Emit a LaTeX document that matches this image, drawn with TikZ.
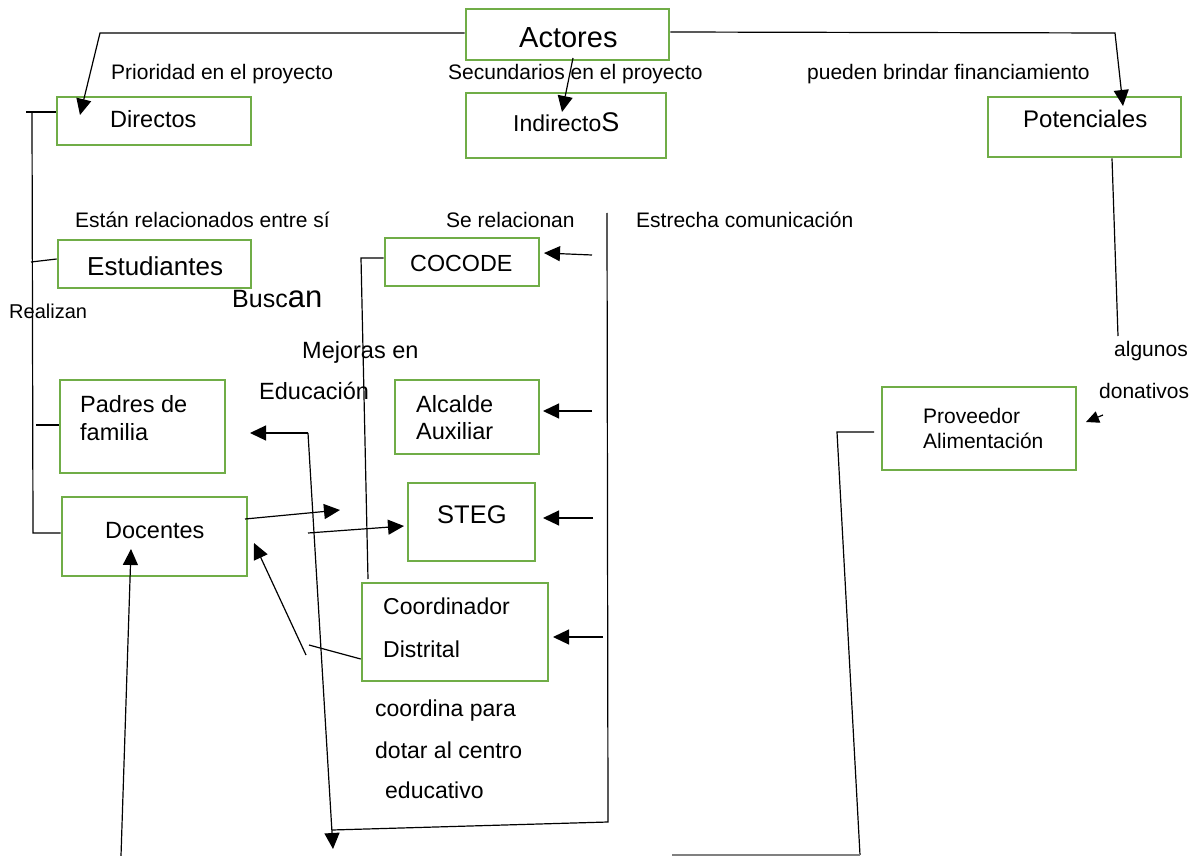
\documentclass[tikz,border=0pt]{standalone}
\usepackage{fontspec}
\setmainfont{Liberation Sans}
\usetikzlibrary{arrows.meta}
\definecolor{boxgreen}{RGB}{112,173,71}
\newcommand{\fsz}[1]{\fontsize{#1pt}{#1pt}\selectfont}
\begin{document}
\begin{tikzpicture}[x=1pt,y=-1pt,
  box/.style={draw=boxgreen,line width=2.6pt,inner sep=0pt,rectangle},
  txt/.style={anchor=base west,inner sep=0pt,font=\fsz{21}},
  conn/.style={line width=1.2pt},
  arr/.style={conn,-{Triangle[length=16pt,width=15pt]}},
  sarr/.style={conn,-{Triangle[length=13pt,width=12pt]}},
]
\useasboundingbox (0,0) rectangle (1195,856);

% ---------- boxes ----------
\node[box,minimum width=203pt,minimum height=51pt] (actores) at (567.5,34.5) {};
\node[box,minimum width=194pt,minimum height=48pt] (directos) at (154,121) {};
\node[box,minimum width=200pt,minimum height=65pt] (indirectos) at (566,125.5) {};
\node[box,minimum width=193pt,minimum height=60pt] (potenciales) at (1084.5,127) {};
\node[box,minimum width=193pt,minimum height=48pt] (estudiantes) at (154.5,264) {};
\node[box,minimum width=154pt,minimum height=48pt] (cocode) at (462,262) {};
\node[box,minimum width=165pt,minimum height=93pt] (padres) at (142.5,426.5) {};
\node[box,minimum width=185pt,minimum height=79pt] (docentes) at (154.5,536.5) {};
\node[box,minimum width=144pt,minimum height=74pt] (alcalde) at (467,417) {};
\node[box,minimum width=127pt,minimum height=78pt] (steg) at (471.5,522) {};
\node[box,minimum width=186pt,minimum height=98pt] (coord) at (455,632) {};
\node[box,minimum width=194pt,minimum height=83pt] (proveedor) at (979,428.5) {};

% ---------- texts inside boxes ----------
\node[txt,font=\fsz{29}] (tactores) at (519,48) {Actores};
\node[txt,font=\fsz{23.5}] (tdirectos) at (110,128) {Directos};
\node[txt] (tindirectos) at (513,132) {{\fsz{23}Indirecto}{\fsz{27}S}};
\node[txt,font=\fsz{24}] (tpotenciales) at (1023,128) {Potenciales};
\node[txt,font=\fsz{26}] (testudiantes) at (87,275) {Estudiantes};
\node[txt,font=\fsz{23.3}] (tcocode) at (410,271) {COCODE};
\node[txt,font=\fsz{23.5}] (tpadres1) at (80,412) {Padres de};
\node[txt,font=\fsz{23.5}] (tpadres2) at (80,440) {familia};
\node[txt,font=\fsz{23.5}] (tdocentes) at (105,538) {Docentes};
\node[txt,font=\fsz{23.5}] (talcalde1) at (416,412) {Alcalde};
\node[txt,font=\fsz{23.5}] (talcalde2) at (416,439) {Auxiliar};
\node[txt,font=\fsz{25.5}] (tsteg) at (437,523) {STEG};
\node[txt,font=\fsz{23}] (tcoord1) at (383,614) {Coordinador};
\node[txt,font=\fsz{23}] (tcoord2) at (383,657) {Distrital};
\node[txt] (tprov1) at (923,423) {Proveedor};
\node[txt] (tprov2) at (923,448) {Alimentación};

% ---------- free labels ----------
\node[txt] (lprioridad) at (111,80) {Prioridad en el proyecto};
\node[txt] (lsecundarios) at (448,80) {Secundarios en el proyecto};
\node[txt] (lpueden) at (807,80) {pueden brindar financiamiento};
\node[txt] (lestan) at (75,227) {Están relacionados entre sí};
\node[txt] (lserel) at (446,227) {Se relacionan};
\node[txt] (lestrecha) at (636,227) {Estrecha comunicación};
\node[txt] (lbuscan) at (232,307) {{\fsz{25}Busc}{\fsz{31}an}};
\node[txt,font=\fsz{20}] (lrealizan) at (9,318) {Realizan};
\node[txt,font=\fsz{23.5}] (lmejoras) at (302,358) {Mejoras en};
\node[txt,font=\fsz{23.5}] (leducacion) at (259,399) {Educación};
\node[txt] (lalgunos) at (1114,356) {algunos};
\node[txt] (ldonativos) at (1099,398) {donativos};
\node[txt,font=\fsz{23}] (lcoordina) at (375,716) {coordina para};
\node[txt,font=\fsz{23}] (ldotar) at (375,758) {dotar al centro};
\node[txt,font=\fsz{23}] (leducativo) at (385,798) {educativo};

% ---------- coordinates ----------
\coordinate (cA1) at (100,33);
\coordinate (tipDir) at (80,115);
\coordinate (cA2) at (573,58);
\coordinate (tipInd) at (562,112);
\coordinate (cA3) at (1115,33);
\coordinate (tipPot) at (1123,106);
\coordinate (potEnd) at (1118,336);
\coordinate (donS) at (1103,415);
\coordinate (donT) at (1086,422);
\coordinate (provL) at (874,432);
\coordinate (provC) at (837,432);
\coordinate (provB) at (860,855);
\coordinate (provE) at (672,855);
\coordinate (brT0) at (26,112);
\coordinate (brT) at (32,112);
\coordinate (brB) at (33,533);
\coordinate (brE) at (31,262);
\coordinate (brP) at (36,425);
\coordinate (cocL) at (361,258);
\coordinate (cocB) at (368,579);
\coordinate (vTop) at (607,213);
\coordinate (vBot) at (608,822);
\coordinate (hEnd) at (332,830);
\coordinate (pBend) at (308,433);
\coordinate (tipPad) at (250,433);
\coordinate (tipDown) at (333,849);
\coordinate (sC) at (592,255);
\coordinate (tC) at (544,253);
\coordinate (sA) at (592,411);
\coordinate (tA) at (543,411);
\coordinate (sS) at (593,518);
\coordinate (tS) at (543,518);
\coordinate (sD) at (603,637);
\coordinate (tD) at (553,637);
\coordinate (d1s) at (245,519);
\coordinate (d1t) at (340,510);
\coordinate (d2s) at (308,533);
\coordinate (d2t) at (404,526);
\coordinate (cdK) at (309,645);
\coordinate (cdS) at (306,655);
\coordinate (tipDoc) at (254,543);
\coordinate (botS) at (121,856);
\coordinate (tipDoc2) at (131,549);

% ---------- connectors ----------
\draw[arr] (actores.west |- 0,33) -- (cA1) -- (tipDir);
\draw[arr] (cA2) -- (tipInd);
\draw[arr] (actores.east |- 0,32) -- (cA3) -- (tipPot);
\draw[conn] (potenciales.south -| 1112,0) -- (potEnd);
\draw[sarr] (donS) -- (donT);
\draw[conn] (provL) -- (provC) -- (provB);
\draw[conn,gray] (provB) -- (provE);

\draw[conn] (brT0) -- (directos.west |- 0,112);
\draw[conn] (brT) -- (brB) -- (docentes.west |- 0,533);
\draw[conn] (brE) -- (estudiantes.west |- 0,259);
\draw[conn] (brP) -- (padres.west |- 0,425);

\draw[conn] (cocode.west |- 0,258) -- (cocL) -- (cocB);

\draw[conn] (vTop) -- (vBot) -- (hEnd);
\draw[arr] (pBend) -- (tipPad);
\draw[arr] (pBend) -- (tipDown);

\draw[arr] (sC) -- (tC);
\draw[arr] (sA) -- (tA);
\draw[arr] (sS) -- (tS);
\draw[arr] (sD) -- (tD);

\draw[arr] (d1s) -- (d1t);
\draw[arr] (d2s) -- (d2t);
\draw[conn] (coord.west |- 0,659) -- (cdK);
\draw[arr] (cdS) -- (tipDoc);
\draw[arr] (botS) -- (tipDoc2);
\end{tikzpicture}
\end{document}
